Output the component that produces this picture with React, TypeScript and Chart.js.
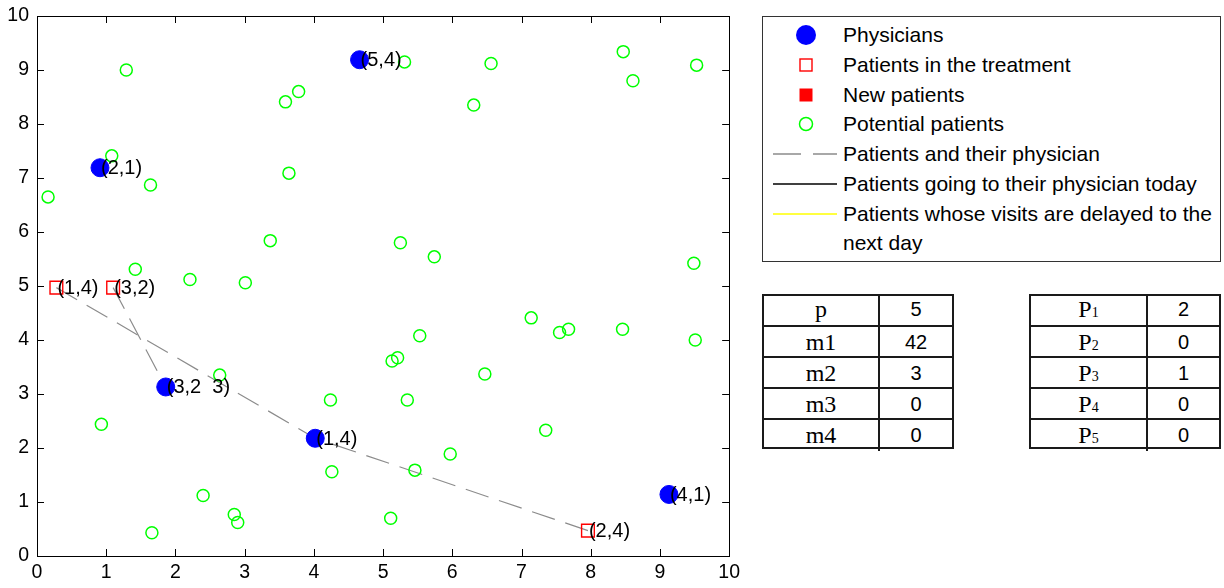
import React, { useEffect, useRef } from 'react';
import { Chart, registerables } from 'chart.js';

Chart.register(...registerables);

// ---- data ----
const axisTicks = [0, 1, 2, 3, 4, 5, 6, 7, 8, 9, 10];

const physicianX = [4.66, 0.91, 1.86, 4.02, 9.13];
const physicianY = [9.19, 7.19, 3.13, 2.18, 1.14];
const physicianLabels = ['(5,4)', '(2,1)', '(3,2  3)', '(1,4)', '(4,1)'];

const treatedX = [0.28, 1.1, 7.96];
const treatedY = [4.97, 4.97, 0.47];
const treatedLabels = ['(1,4)', '(3,2)', '(2,4)'];

// patient index -> physician index (dashed links)
const linkPatient = [0, 1, 2];
const linkPhysician = [3, 2, 3];

const potentialX = [
  0.16, 1.29, 1.08, 1.64, 3.59, 3.78, 3.64, 3.37, 1.42, 2.21, 3.01,
  5.31, 6.56, 6.31, 8.47, 8.61, 9.53, 5.25, 5.74, 9.49,
  2.64, 0.93, 4.24, 4.26, 2.4, 1.66, 2.85, 2.9,
  7.14, 5.53, 7.55, 7.68, 8.46, 9.51, 5.13, 5.21, 6.47, 5.35, 7.35, 5.97, 5.46, 5.11,
];
const potentialY = [
  6.65, 9.0, 7.41, 6.87, 8.41, 8.6, 7.09, 5.84, 5.31, 5.12, 5.06,
  9.15, 9.12, 8.35, 9.34, 8.8, 9.09, 5.8, 5.54, 5.42,
  3.35, 2.44, 2.89, 1.56, 1.12, 0.43, 0.77, 0.62,
  4.41, 4.08, 4.14, 4.2, 4.2, 4.0, 3.61, 3.67, 3.37, 2.89, 2.33, 1.89, 1.59, 0.7,
];

const legendLabels = [
  'Physicians',
  'Patients in the treatment',
  'New patients',
  'Potential patients',
  'Patients and their physician',
  'Patients going to their physician today',
  'Patients whose visits are delayed to the',
  'next day',
];

const leftTableLabels = ['p', 'm1', 'm2', 'm3', 'm4'];
const leftTableValues = ['5', '42', '3', '0', '0'];
const rightTableSubs = ['1', '2', '3', '4', '5'];
const rightTableValues = ['2', '0', '1', '0', '0'];

const SANS = '"Liberation Sans", Arial, sans-serif';
const SERIF = '"Liberation Serif", "Times New Roman", serif';

const boxTicksPlugin = {
  id: 'boxTicks',
  beforeDatasetsDraw(chart: any) {
    const { ctx, chartArea, scales } = chart;
    const { left, right, top, bottom } = chartArea;
    ctx.save();
    ctx.strokeStyle = '#000';
    ctx.lineWidth = 1;
    ctx.beginPath();
    const tl = 7;
    axisTicks.forEach((v) => {
      const px = Math.round(scales.x.getPixelForValue(v)) + 0.5;
      ctx.moveTo(px, bottom);
      ctx.lineTo(px, bottom - tl);
      ctx.moveTo(px, top);
      ctx.lineTo(px, top + tl);
      const py = Math.round(scales.y.getPixelForValue(v)) + 0.5;
      ctx.moveTo(left, py);
      ctx.lineTo(left + tl, py);
      ctx.moveTo(right, py);
      ctx.lineTo(right - tl, py);
    });
    ctx.stroke();
    ctx.strokeRect(Math.round(left) + 0.5, Math.round(top) + 0.5, Math.round(right - left), Math.round(bottom - top));
    ctx.restore();
  },
};

const pointLabelsPlugin = {
  id: 'pointLabels',
  afterDatasetsDraw(chart: any) {
    const { ctx, scales } = chart;
    ctx.save();
    ctx.fillStyle = '#000';
    ctx.font = `20px ${SANS}`;
    ctx.textAlign = 'left';
    ctx.textBaseline = 'middle';
    physicianLabels.forEach((t, i) => {
      ctx.fillText(t, scales.x.getPixelForValue(physicianX[i]) + 1, scales.y.getPixelForValue(physicianY[i]) + 1);
    });
    treatedLabels.forEach((t, i) => {
      ctx.fillText(t, scales.x.getPixelForValue(treatedX[i]) + 1, scales.y.getPixelForValue(treatedY[i]) + 1);
    });
    ctx.restore();
  },
};

function LegendSymbol({ kind }: { kind: number }) {
  const w = 70;
  const h = 24;
  const cx = 33;
  const cy = 12;
  let el: any = null;
  if (kind === 0) el = <circle cx={cx} cy={cy} r={10} fill="#0000ff" />;
  if (kind === 1) el = <rect x={cx - 6} y={cy - 6} width={12} height={12} fill="none" stroke="#ff0000" strokeWidth={1.4} />;
  if (kind === 2) el = <rect x={cx - 6.5} y={cy - 6.5} width={13} height={13} fill="#ff0000" />;
  if (kind === 3) el = <circle cx={cx} cy={cy} r={6.5} fill="none" stroke="#00ff00" strokeWidth={1.5} />;
  if (kind === 4) el = <line x1={0} y1={cy} x2={64} y2={cy} stroke="#8c8c8c" strokeWidth={1.3} strokeDasharray="28 12" />;
  if (kind === 5) el = <line x1={0} y1={cy} x2={64} y2={cy} stroke="#000" strokeWidth={1.3} />;
  if (kind === 6) el = <line x1={0} y1={cy} x2={64} y2={cy} stroke="#ffff00" strokeWidth={1.5} />;
  return (
    <svg width={w} height={h} style={{ position: 'absolute', left: 11, top: -12 }}>
      {el}
    </svg>
  );
}

function Table({ left, col1, labels, values }: { left: number; col1: number; labels: any[]; values: string[] }) {
  const rowH = 31;
  const width = 192;
  return (
    <div
      style={{
        position: 'absolute',
        left,
        top: 294,
        width,
        height: rowH * labels.length,
        border: '2px solid #1a1a1a',
        boxSizing: 'border-box',
      }}
    >
      {labels.map((lab, i) => (
        <div
          key={i}
          style={{
            position: 'absolute',
            left: 0,
            top: i * rowH - 2,
            width: width - 4,
            height: rowH,
            borderTop: i === 0 ? 'none' : '2px solid #1a1a1a',
            boxSizing: 'border-box',
          }}
        >
          <div
            style={{
              position: 'absolute',
              left: 0,
              top: 0,
              width: col1,
              height: rowH,
              borderRight: '2px solid #1a1a1a',
              boxSizing: 'border-box',
              display: 'flex',
              alignItems: 'center',
              justifyContent: 'center',
              fontFamily: SERIF,
              fontSize: 24,
              color: '#000',
            }}
          >
            {lab}
          </div>
          <div
            style={{
              position: 'absolute',
              left: col1,
              top: 0,
              width: width - 4 - col1,
              height: rowH,
              display: 'flex',
              alignItems: 'center',
              justifyContent: 'center',
              fontFamily: SANS,
              fontSize: 20,
              color: '#000',
            }}
          >
            {values[i]}
          </div>
        </div>
      ))}
    </div>
  );
}

export default function App() {
  const canvasRef = useRef<HTMLCanvasElement | null>(null);

  useEffect(() => {
    if (!canvasRef.current) return;
    const pt = (xs: number[], ys: number[]) => xs.map((x, i) => ({ x, y: ys[i] }));
    const linkSets = linkPatient.map((p, i) => ({
      type: 'line' as const,
      label: 'link' + i,
      data: [
        { x: treatedX[p], y: treatedY[p] },
        { x: physicianX[linkPhysician[i]], y: physicianY[linkPhysician[i]] },
      ],
      borderColor: '#8c8c8c',
      borderWidth: 1.2,
      borderDash: [24, 11],
      pointRadius: 0,
      fill: false,
      order: 10,
    }));
    const chart = new Chart(canvasRef.current, {
      type: 'scatter',
      data: {
        datasets: [
          ...linkSets,
          {
            label: 'Physicians',
            data: pt(physicianX, physicianY),
            pointStyle: 'circle',
            pointRadius: 9,
            backgroundColor: '#0000ff',
            borderColor: '#0000ff',
            borderWidth: 1,
            order: 5,
          },
          {
            label: 'Potential patients',
            data: pt(potentialX, potentialY),
            pointStyle: 'circle',
            pointRadius: 6,
            backgroundColor: 'rgba(0,0,0,0)',
            borderColor: '#00ff00',
            borderWidth: 1.5,
            order: 3,
          },
          {
            label: 'Patients in the treatment',
            data: pt(treatedX, treatedY),
            pointStyle: 'rect',
            pointRadius: 9,
            backgroundColor: 'rgba(0,0,0,0)',
            borderColor: '#ff0000',
            borderWidth: 1.4,
            order: 2,
          },
        ] as any,
      },
      options: {
        responsive: false,
        animation: false,
        devicePixelRatio: 1,
        layout: { padding: { top: 16, right: 12, left: 0, bottom: 0 } },
        plugins: { legend: { display: false }, tooltip: { enabled: false } },
        scales: {
          x: {
            type: 'linear',
            min: 0,
            max: 10,
            afterBuildTicks: (s: any) => {
              s.ticks = axisTicks.map((v) => ({ value: v }));
            },
            ticks: {
              color: '#000',
              font: { family: SANS, size: 19.5 },
              padding: 5,
              maxRotation: 0,
              autoSkip: false,
            },
            grid: { display: false, drawTicks: false },
            border: { display: false },
            afterFit: (s: any) => {
              s.height = 32;
            },
          },
          y: {
            type: 'linear',
            min: 0,
            max: 10,
            afterBuildTicks: (s: any) => {
              s.ticks = axisTicks.map((v) => ({ value: v }));
            },
            ticks: {
              color: '#000',
              font: { family: SANS, size: 19.5, lineHeight: 0.7 },
              padding: 8,
              autoSkip: false,
            },
            grid: { display: false, drawTicks: false },
            border: { display: false },
            afterFit: (s: any) => {
              s.width = 37;
            },
          },
        },
      } as any,
      plugins: [boxTicksPlugin, pointLabelsPlugin],
    });
    return () => chart.destroy();
  }, []);

  const rowCenters = legendLabels.map((_, i) => 35 + i * 29.75);

  return (
    <div
      style={{
        position: 'absolute',
        left: 0,
        top: 0,
        width: 1224,
        height: 588,
        background: '#fff',
        overflow: 'hidden',
        fontFamily: SANS,
      }}
    >
      <canvas
        ref={canvasRef}
        width={745}
        height={588}
        style={{ position: 'absolute', left: 0, top: 0, width: 745, height: 588 }}
      />
      <div
        style={{
          position: 'absolute',
          left: 762,
          top: 16,
          width: 459,
          height: 246,
          border: '1px solid #333',
          boxSizing: 'border-box',
        }}
      />
      {legendLabels.map((t, i) => (
        <div key={i} style={{ position: 'absolute', left: 762, top: rowCenters[i], width: 460, height: 0 }}>
          {i < 7 && <LegendSymbol kind={i} />}
          <div
            style={{
              position: 'absolute',
              left: 81,
              top: -13,
              fontSize: 21,
              lineHeight: '26px',
              whiteSpace: 'nowrap',
              color: '#000',
            }}
          >
            {t}
          </div>
        </div>
      ))}
      <Table left={762} col1={116} labels={leftTableLabels} values={leftTableValues} />
      <Table
        left={1029}
        col1={117}
        labels={rightTableSubs.map((s) => (
          <span key={s}>
            P<span style={{ fontSize: 14 }}>{s}</span>
          </span>
        ))}
        values={rightTableValues}
      />
    </div>
  );
}
